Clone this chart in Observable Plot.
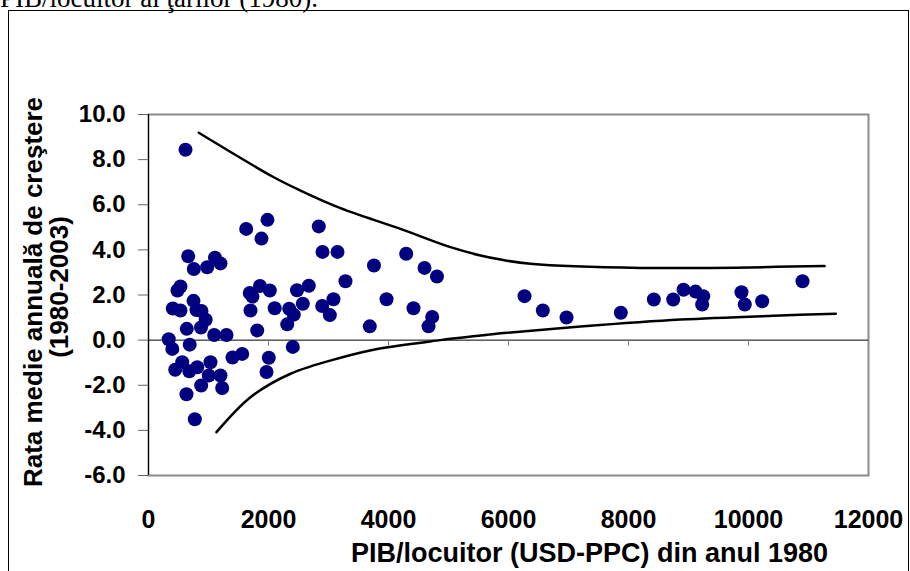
<!DOCTYPE html>
<html>
<head>
<meta charset="utf-8">
<script src="https://cdn.jsdelivr.net/npm/d3@7"></script>
<script src="https://cdn.jsdelivr.net/npm/@observablehq/plot@0.6"></script>
<style>
  html, body { margin: 0; padding: 0; background: #fff; }
  #wrap { position: relative; width: 910px; height: 571px; overflow: hidden; background: #fff; }
  #top { position: absolute; left: 0px; top: -15px; font-family: "Liberation Serif", "Times New Roman", serif; font-size: 27px; line-height: 27px; white-space: nowrap; color: #000; }
  #box { position: absolute; left: 8px; top: 10px; width: 901px; height: 600px; border: 1.5px solid #000; box-sizing: border-box; }
  #chart { position: absolute; left: 0; top: 0; }
</style>
</head>
<body>
<div id="wrap">
  <div id="top">PIB/locuitor al ţărilor (1980).</div>
  <div id="box"></div>
  <div id="chart"></div>
</div>
<script>
// GDP per capita 1980 (USD-PPP) and average annual growth rate 1980-2003 (%)
const gdp = [617, 662, 755, 978, 1108, 1200, 1628, 1883, 1983, 2838, 2900, 3150, 3758, 4295, 4600, 4808, 3283, 2672, 2475, 2572,
  2895, 3083, 3022, 2345, 2422, 2312, 2103, 1688, 1858, 2022, 1700, 1812, 2005, 1967, 2405, 3688, 3967, 4417, 4728, 4667,
  533, 405, 533, 750, 800, 883, 953, 875, 638, 1095, 1300, 337, 397, 687, 562, 445, 680, 812, 1033, 1005,
  1200, 878, 1228, 633, 772, 1400, 1562, 483, 1733,
  6267, 6572, 6967, 7872, 8422, 8745, 8917, 9117, 9245, 9228, 9883, 9938, 10228, 10900];
const growth = [8.44, 3.72, 3.15, 3.23, 3.65, 3.40, 4.93, 4.50, 5.33, 5.04, 3.91, 3.91, 3.31, 3.83, 3.20, 2.82, 2.61, 2.41, 2.21, 1.61,
  1.51, 1.81, 1.11, 1.39, 1.13, 0.70, 1.41, 2.09, 2.40, 2.20, 1.31, 0.43, -0.78, -1.41, -0.30, 0.61, 1.81, 1.41, 1.03, 0.61,
  2.38, 1.40, 1.31, 1.74, 1.33, 1.29, 0.90, 0.56, 0.50, 0.23, 0.23, 0.04, -0.39, -0.20, -0.98, -1.31, -1.38, -1.20, -0.98, -1.57,
  -1.57, -2.01, -2.12, -2.40, -3.51, -0.77, -0.61, 2.20, 1.93,
  1.95, 1.31, 1.00, 1.21, 1.80, 1.80, 2.23, 2.15, 1.95, 1.58, 2.12, 1.58, 1.72, 2.61];

// Upper and lower envelope curves
const upperX = [838, 2088, 2533, 3200, 4200, 5033, 5533, 5867, 6367, 8200, 11267];
const upperY = [9.19, 7.22, 6.63, 5.85, 4.93, 4.12, 3.75, 3.57, 3.38, 3.20, 3.28];
const lowerX = [1133, 1700, 2367, 3200, 3812, 4867, 5533, 5867, 7200, 8867, 10533, 11455];
const lowerY = [-4.08, -2.53, -1.49, -0.78, -0.39, 0.00, 0.20, 0.30, 0.60, 0.91, 1.09, 1.17];

const xTicks = [0, 2000, 4000, 6000, 8000, 10000, 12000];
const yTicks = [-6, -4, -2, 0, 2, 4, 6, 8, 10];

const yTitle1 = "Rata medie annuală de creştere";
const yTitle2 = "(1980-2003)";
const xTitle = "PIB/locuitor (USD-PPC) din anul 1980";

const points = gdp.map((g, i) => ({x: g, y: growth[i]}));
const upper = upperX.map((x, i) => ({x, y: upperY[i]}));
const lower = lowerX.map((x, i) => ({x, y: lowerY[i]}));

const font = "'Liberation Sans', Arial, Helvetica, sans-serif";

const chart = Plot.plot({
  width: 910,
  height: 571,
  marginLeft: 148,
  marginRight: 42,
  marginTop: 114,
  marginBottom: 96,
  style: {fontFamily: font, background: "transparent", overflow: "visible"},
  x: {domain: [0, 12000]},
  y: {domain: [-6, 10]},
  marks: [
    Plot.frame({stroke: "#8c8c8c", strokeWidth: 2}),
    Plot.ruleY([0], {stroke: "#000", strokeWidth: 1}),
    Plot.ruleX(xTicks.slice(1, -1), {x: d => d, y1: 0, y2: 0, insetBottom: -6, stroke: "#777", strokeWidth: 1}),
    Plot.ruleX([0], {stroke: "#000", strokeWidth: 1}),
    Plot.axisY({ticks: yTicks, tickFormat: d => d.toFixed(1), tickSize: 10, tickPadding: 13,
      stroke: "#666", fontSize: 24, fontWeight: "bold", fill: "#000", label: null}),
    Plot.axisX({ticks: xTicks, tickFormat: d => String(d), tickSize: 0, tickPadding: 35,
      fontSize: 25, fontWeight: "bold", fill: "#000", label: null}),
    Plot.line(upper, {x: "x", y: "y", curve: "catmull-rom", stroke: "#000", strokeWidth: 2.5}),
    Plot.line(lower, {x: "x", y: "y", curve: "catmull-rom", stroke: "#000", strokeWidth: 2.5}),
    Plot.dot(points, {x: "x", y: "y", r: 7, fill: "#000080", stroke: "none"}),
    Plot.text([yTitle1], {frameAnchor: "left", dx: -115, dy: -3, rotate: -90, text: d => d,
      fontSize: 26, fontWeight: "bold", fill: "#000", lineAnchor: "middle", textAnchor: "middle"}),
    Plot.text([yTitle2], {frameAnchor: "left", dx: -89, dy: -8, rotate: -90, text: d => d,
      fontSize: 26, fontWeight: "bold", fill: "#000", lineAnchor: "middle", textAnchor: "middle"}),
    Plot.text([xTitle], {frameAnchor: "bottom", dx: 81, dy: 78, text: d => d,
      fontSize: 27, fontWeight: "bold", fill: "#000", lineAnchor: "middle", textAnchor: "middle"})
  ]
});
document.getElementById("chart").appendChild(chart);
</script>
</body>
</html>
